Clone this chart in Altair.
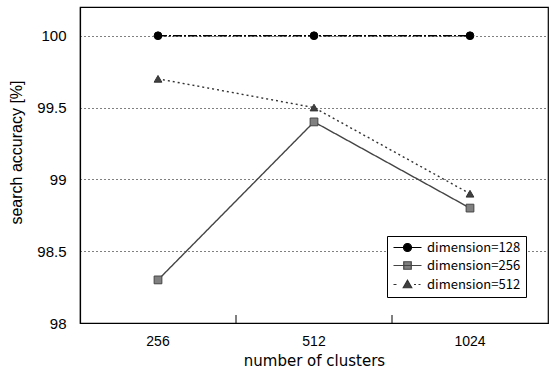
import altair as alt
import pandas as pd

clusters = ["256", "512", "1024"]
series = ["dimension=128", "dimension=256", "dimension=512"]
acc_128 = [100.0, 100.0, 100.0]
acc_256 = [98.3, 99.4, 98.8]
acc_512 = [99.7, 99.5, 98.9]
band_boundaries = ["512", "1024"]

rows = []
for s, vals in zip(series, [acc_128, acc_256, acc_512]):
    for c, v in zip(clusters, vals):
        rows.append({"clusters": c, "series": s, "acc": v})
df = pd.DataFrame(rows)
ticks_df = pd.DataFrame({"clusters": band_boundaries})

FONT_X = "Liberation Sans"
FONT_XT = "DejaVu Sans"
FONT_Y = "Liberation Sans"
FONT_LEG = "Noto Sans CJK JP"

line_colors = ["#000000", "#444444", "#333333"]
fill_colors = ["#000000", "#808080", "#404040"]

# legend glyphs: line + marker drawn as one path (unit = sqrt(size)/2 px)
legend_paths = [
    "M-1,0L4.6,0M1.8,-0.8A0.8,0.8 0 1,1 1.8,0.8A0.8,0.8 0 1,1 1.8,-0.8Z",
    "M-1,0L4.6,0M1.05,-0.75L2.55,-0.75L2.55,0.75L1.05,0.75Z",
    "M-1,0L-0.4,0M3.1,0L3.5,0M4.0,0L4.4,0M1.8,-0.85L2.65,0.65L0.95,0.65Z",
]

x_scale = alt.Scale(type="band", paddingInner=0, paddingOuter=0, domain=clusters)

x_axis = alt.Axis(
    title="number of clusters",
    labelAngle=0,
    labelFont=FONT_X,
    labelFontSize=14,
    labelColor="black",
    labelPadding=11,
    titleFont=FONT_XT,
    titleFontSize=15,
    titleFontWeight="normal",
    titleColor="black",
    titlePadding=5,
    domainColor="black",
    domainWidth=1.2,
    ticks=False,
    grid=False,
)

x_enc = alt.X("clusters:O", bandPosition=0.5, scale=x_scale, axis=x_axis)

y_enc = alt.Y(
    "acc:Q",
    scale=alt.Scale(domain=[98, 100.2], nice=False, zero=False),
    axis=alt.Axis(
        title="search accuracy [%]",
        values=[98, 98.5, 99, 99.5, 100],
        format=".1~f",
        labelFont=FONT_Y,
        labelFontSize=15,
        labelColor="black",
        labelPadding=14,
        ticks=False,
        titleFont=FONT_Y,
        titleFontSize=16,
        titleFontWeight="normal",
        titleColor="black",
        titlePadding=12,
        titleY=145,
        domainColor="black",
        domainWidth=1.2,
        grid=True,
        gridColor="#000000",
        gridDash=[1, 3],
        gridWidth=1,
    ),
)

inner_ticks = alt.Chart(ticks_df).mark_rule(color="black", strokeWidth=1).encode(
    x=alt.X("clusters:O", bandPosition=0, scale=x_scale, axis=x_axis),
    y=alt.value(316),
    y2=alt.value(308),
)

lines = alt.Chart(df).mark_line(strokeWidth=1.4).encode(
    x=x_enc,
    y=y_enc,
    color=alt.Color("series:N", scale=alt.Scale(domain=series, range=line_colors), legend=None),
    strokeDash=alt.StrokeDash(
        "series:N",
        scale=alt.Scale(domain=series, range=[[9, 2, 2, 2], [1, 0], [2, 3]]),
        legend=None,
    ),
)

points = alt.Chart(df).mark_point(filled=True, opacity=1, size=60, strokeWidth=1).encode(
    x=x_enc,
    y=y_enc,
    fill=alt.Fill("series:N", scale=alt.Scale(domain=series, range=fill_colors), legend=None),
    stroke=alt.Stroke("series:N", scale=alt.Scale(domain=series, range=line_colors), legend=None),
    shape=alt.Shape(
        "series:N",
        scale=alt.Scale(domain=series, range=["circle", "square", "triangle-up"]),
        legend=None,
    ),
)

leg = alt.Legend(
    title=None,
    orient="none",
    legendX=307,
    legendY=229,
    fillColor="white",
    strokeColor="black",
    padding=5,
    symbolSize=100,
    symbolStrokeWidth=1.2,
    symbolOpacity=1,
    labelOffset=22,
    rowPadding=4,
    labelFont=FONT_LEG,
    labelFontSize=13,
    labelColor="black",
)

legend_layer = (
    alt.Chart(df)
    .transform_filter("false")
    .mark_point(filled=True, opacity=1, size=100)
    .encode(
        x=x_enc,
        y=y_enc,
        fill=alt.Fill("series:N", scale=alt.Scale(domain=series, range=fill_colors), legend=leg),
        stroke=alt.Stroke("series:N", scale=alt.Scale(domain=series, range=line_colors), legend=leg),
        shape=alt.Shape("series:N", scale=alt.Scale(domain=series, range=legend_paths), legend=leg),
    )
)

chart = (
    alt.layer(lines, points, inner_ticks, legend_layer)
    .resolve_scale(shape="independent", fill="independent", stroke="independent")
    .properties(
        width=468,
        height=316,
        autosize=alt.AutoSizeParams(type="none"),
        padding={"left": 80, "top": 7, "right": 6, "bottom": 49},
        background="white",
    )
    .configure_view(stroke="black", strokeWidth=1.2)
)

chart.save("out.html", embed_options={"renderer": "svg", "actions": False})
